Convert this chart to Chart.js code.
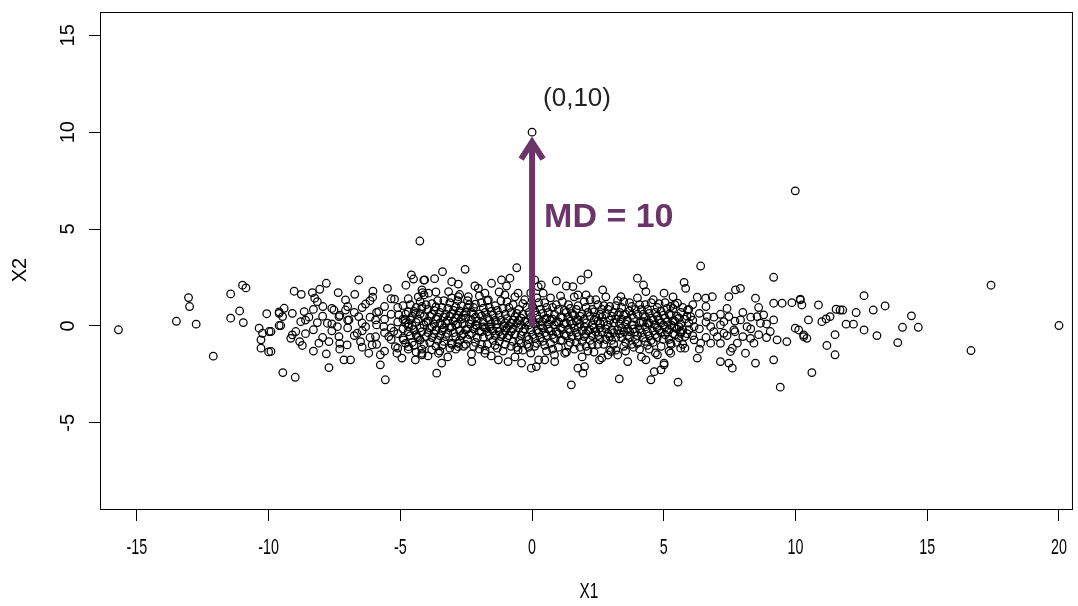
<!DOCTYPE html>
<html>
<head>
<meta charset="utf-8">
<script src="https://cdn.jsdelivr.net/npm/chart.js@4.4.1/dist/chart.umd.min.js"></script>
<style>
  html, body { margin: 0; padding: 0; background: #fff; }
  #wrap { width: 1078px; height: 606px; }
</style>
</head>
<body>
<div id="wrap"><canvas id="c" width="1078" height="606"></canvas></div>
<script>
// ticks
const xTicks = [-15, -10, -5, 0, 5, 10, 15, 20];
const yTicks = [-5, 0, 5, 10, 15];

// the marked point
const target = [[0, 10]];

// isolated points
const outliers = [
  [-15.7, -0.2], [-4.26, 4.38], [9.99, 6.97], [17.42, 2.1], [20.0, 0.02], [16.66, -1.27],
  [6.4, 3.09], [9.17, 2.51], [5.54, -2.9], [9.42, -3.16], [-0.58, 3.0], [1.49, -3.04],
  [3.31, -2.73], [-2.54, 2.92], [4.0, 2.46], [2.12, 2.68]
];

// left tail of the cloud
const leftTail = [
  [-13.5, 0.24], [-13.04, 1.46], [-13.0, 1.0], [-12.75, 0.09], [-12.1, -1.56], [-11.44, 1.65],
  [-11.44, 0.4], [-11.1, 0.77], [-10.99, 2.1], [-10.86, 1.96], [-10.96, 0.17], [-10.36, -0.12],
  [-10.23, -0.38], [-10.29, -0.72], [-10.29, -1.15], [-10.0, -1.34], [-9.98, -0.29], [-10.07, 0.63],
  [-9.6, 0.72], [-9.6, 0.02], [-9.03, 1.79], [-8.76, 1.63], [-8.34, 1.72], [-8.06, 1.89],
  [-7.81, 2.2], [-8.25, 1.43], [-8.15, 1.25], [-7.94, 1.0], [-7.36, 1.72], [-7.08, 1.34],
  [-6.73, 1.63], [-6.58, 2.37], [-6.32, 1.13], [-6.04, 1.79], [-6.05, 1.48], [-5.49, 1.94],
  [-5.22, 1.38], [-4.79, 2.1], [-4.58, 2.63], [-4.5, 2.42], [-4.11, 2.36], [-4.16, 1.72],
  [-9.41, 0.91], [-9.6, 0.65], [-9.47, 0.48], [-9.91, -0.29], [-9.91, -1.32], [-9.54, 0.02],
  [-9.1, 0.65], [-8.65, 0.74], [-8.78, 0.22], [-9.1, -0.46], [-8.97, -0.29], [-9.16, -0.64],
  [-8.82, -0.81], [-8.72, -1.01], [-9.46, -2.41], [-8.99, -2.65], [-8.47, 0.45], [-8.15, 0.17],
  [-7.77, 0.14], [-8.09, -0.89], [-7.71, -0.81], [-7.81, -1.44], [-7.71, -2.15], [-7.52, 0.82],
  [-7.33, 0.48], [-7.39, -0.04], [-7.33, -0.55], [-7.14, -1.75], [-6.89, -1.75], [-7.02, -0.98],
  [-6.95, 0.31], [-7.08, 0.82], [-6.58, 0.48], [-6.64, -0.38], [-6.51, -0.81], [-6.32, -0.04],
  [-6.2, -1.41], [-6.07, -0.98], [-5.94, -0.55], [-5.76, -1.49], [-5.76, -2.01], [-5.57, -2.78],
  [-5.94, 0.31], [-5.82, 0.74], [-5.63, -0.04], [-5.44, -0.55], [-5.25, -0.29], [-5.19, -1.07],
  [-5.13, -1.41], [-4.94, -1.66], [-4.88, -0.72], [-5.06, 0.57], [-4.81, 0.31], [-4.69, -1.07],
  [-4.69, -0.04], [-4.43, -1.75], [-4.37, -0.55], [-4.18, -1.41], [-4.43, 0.65], [-4.18, 1.0],
  [-8.6, 0.3], [-8.6, -0.4], [-8.3, -0.2], [-8.3, 0.85], [-8.3, -1.3], [-7.95, 0.5], [-7.95, -0.6],
  [-7.6, -0.25], [-7.6, 0.9], [-7.6, 0.1], [-7.3, 0.55], [-7.3, -0.9], [-7.3, -1.2], [-7.0, -0.1],
  [-7.0, 0.3], [-7.0, 1.0], [-6.75, 0.7], [-6.75, -0.5], [-6.45, 0.15], [-6.45, -0.25], [-6.45, 0.95],
  [-6.45, -1.1], [-6.15, -0.6], [-6.15, 0.45], [-6.15, 1.3], [-5.9, 0.05], [-5.9, -0.95], [-5.9, 0.7],
  [-5.6, 0.35], [-5.6, -0.35], [-5.6, 1.0], [-5.6, -1.3], [-5.35, -0.1], [-5.35, 0.6], [-5.35, -0.7],
  [-5.35, 1.4], [-5.1, 0.2], [-5.1, -0.4], [-5.1, 0.95], [-5.1, -1.15]
];

// upper and lower edges of the centre
const centreEdges = [
  [-4.08, 2.37], [-3.7, 2.44], [-3.4, 2.8], [-3.05, 2.28], [-2.8, 2.16], [-2.17, 2.06], [-2.04, 1.94],
  [-1.54, 2.2], [-1.16, 2.37], [-0.84, 2.46], [-0.97, 2.06], [0.1, 2.37], [0.23, 2.03], [-4.18, 1.86],
  [-3.93, 1.69], [-3.17, 1.77], [-2.8, 1.51], [-2.42, 1.51], [-1.79, 1.69], [-1.66, 1.34], [-1.03, 1.6],
  [-0.53, 1.69], [-3.62, -2.44], [-3.43, -1.92], [-3.81, -1.24], [-3.55, -1.41], [-4.18, -1.49],
  [-2.29, -1.84], [-1.79, -1.41], [-1.28, -1.75], [-0.91, -1.84], [-0.4, -1.92], [-0.03, -2.18],
  [0.16, -2.1], [-2.8, -1.07], [-3.05, -0.89], [-0.53, -1.24], [1.86, 2.37], [0.92, 2.32], [1.3, 2.06],
  [1.55, 2.03], [2.68, 1.86], [4.23, 2.11], [4.32, 1.77], [3.37, 1.51], [5.01, 1.69], [0.35, 2.11],
  [0.42, 1.69], [1.74, 1.6], [2.05, 1.6], [1.74, -2.18], [1.99, -2.1], [1.93, -2.44], [2.56, -1.75],
  [3.63, -1.84], [4.51, -2.78], [4.64, -2.36], [4.32, -1.75], [4.76, -1.49], [0.48, -1.75], [0.86, -1.84],
  [1.24, -1.41], [3.0, -1.32], [5.01, -2.01]
];

// dense middle of the cloud
const core = [
  [-4.9, 0.35], [-4.9, -0.62], [-4.9, 1.05], [-4.9, -0.15],
  [-4.7, -0.3], [-4.7, 0.72], [-4.7, -1.2], [-4.7, 0.1], [-4.7, 1.4],
  [-4.55, 0.5], [-4.55, -0.85], [-4.55, 0.02],
  [-4.4, -0.45], [-4.4, 0.95], [-4.4, 0.18], [-4.4, -1.35],
  [-4.25, 0.62], [-4.25, -0.1], [-4.25, -0.72], [-4.25, 1.25],
  [-4.1, 0.05], [-4.1, -0.95], [-4.1, 0.48], [-4.1, 1.6],
  [-3.95, -0.35], [-3.95, 0.85], [-3.95, -1.55], [-3.95, 0.25],
  [-3.8, 0.6], [-3.8, -0.6], [-3.8, 1.15], [-3.8, -0.05],
  [-3.65, -0.22], [-3.65, 0.35], [-3.65, -1.05], [-3.65, 0.98], [-3.65, 1.75],
  [-3.5, 0.15], [-3.5, -0.5], [-3.5, 0.7], [-3.5, -1.3],
  [-3.35, -0.8], [-3.35, 0.45], [-3.35, 1.3], [-3.35, -0.1],
  [-3.2, 0.28], [-3.2, -0.38], [-3.2, 0.9], [-3.2, -1.6],
  [-3.05, -0.05], [-3.05, 0.62], [-3.05, -0.95], [-3.05, 1.45],
  [-2.9, 0.4], [-2.9, -0.55], [-2.9, 1.0], [-2.9, -1.2], [-2.9, 0.05],
  [-2.75, -0.25], [-2.75, 0.78], [-2.75, -0.75], [-2.75, 1.62],
  [-2.6, 0.12], [-2.6, -1.05], [-2.6, 0.55], [-2.6, -0.4],
  [-2.45, 0.95], [-2.45, -0.15], [-2.45, -0.68], [-2.45, 1.3],
  [-2.3, -0.4], [-2.3, 0.3], [-2.3, -1.45], [-2.3, 0.7],
  [-2.15, 0.05], [-2.15, -0.85], [-2.15, 1.12], [-2.15, 0.45],
  [-2.0, -0.28], [-2.0, 0.62], [-2.0, -1.2], [-2.0, 1.55],
  [-1.85, 0.2], [-1.85, -0.58], [-1.85, 0.92], [-1.85, -0.05],
  [-1.7, -0.95], [-1.7, 0.42], [-1.7, -0.3], [-1.7, 1.3],
  [-1.55, 0.75], [-1.55, -0.15], [-1.55, -1.55], [-1.55, 0.1],
  [-1.4, -0.5], [-1.4, 0.28], [-1.4, 1.05], [-1.4, -1.0],
  [-1.25, 0.55], [-1.25, -0.3], [-1.25, -0.8], [-1.25, 1.75],
  [-1.1, 0.0], [-1.1, 0.9], [-1.1, -1.3], [-1.1, -0.45],
  [-0.95, 0.38], [-0.95, -0.62], [-0.95, 1.25], [-0.95, -0.1],
  [-0.8, -0.28], [-0.8, 0.68], [-0.8, -1.05], [-0.8, 0.15],
  [-0.65, 0.48], [-0.65, -0.45], [-0.65, 1.5], [-0.65, -1.6],
  [-0.5, -0.1], [-0.5, 0.85], [-0.5, -0.75], [-0.5, 0.3],
  [-0.35, 0.6], [-0.35, -0.3], [-0.35, -1.25], [-0.35, 1.15],
  [-0.2, -0.55], [-0.2, 0.2], [-0.2, 0.95], [-0.2, -0.95],
  [-0.05, 0.45], [-0.05, -0.2], [-0.05, 1.7], [-0.05, -1.4],
  [0.1, -0.65], [0.1, 0.1], [0.1, 0.78], [0.1, -1.05],
  [0.25, 0.35], [0.25, -0.35], [0.25, 1.2], [0.25, -1.75],
  [0.4, -0.1], [0.4, 0.65], [0.4, -0.8], [0.4, 0.2],
  [0.55, 0.95], [0.55, -0.5], [0.55, -1.3], [0.55, 0.4],
  [0.7, -0.25], [0.7, 0.3], [0.7, 1.45], [0.7, -0.9],
  [0.85, 0.6], [0.85, -0.65], [0.85, 0.05], [0.85, -1.5],
  [1.0, -0.4], [1.0, 0.85], [1.0, 0.2], [1.0, -1.1],
  [1.15, 0.42], [1.15, -0.18], [1.15, 1.25], [1.15, -0.75],
  [1.3, -0.5], [1.3, 0.15], [1.3, -1.35], [1.3, 0.7],
  [1.45, 0.9], [1.45, -0.3], [1.45, -0.85], [1.45, 0.25],
  [1.6, -0.1], [1.6, 0.55], [1.6, -1.2], [1.6, 1.5],
  [1.75, 0.32], [1.75, -0.55], [1.75, 1.05], [1.75, -0.05],
  [1.9, -0.8], [1.9, 0.62], [1.9, -0.25], [1.9, -1.6],
  [2.05, 0.15], [2.05, -0.4], [2.05, 0.95], [2.05, -1.05],
  [2.2, -0.2], [2.2, 0.5], [2.2, -0.75], [2.2, 1.35],
  [2.35, 0.72], [2.35, -0.1], [2.35, -1.35], [2.35, 0.3],
  [2.5, -0.5], [2.5, 0.25], [2.5, 1.1], [2.5, -0.95],
  [2.65, 0.45], [2.65, -0.3], [2.65, -1.65], [2.65, 0.85],
  [2.8, -0.15], [2.8, 0.6], [2.8, -0.7], [2.8, 1.5],
  [2.95, 0.3], [2.95, -0.55], [2.95, 1.0], [2.95, -1.25],
  [3.1, -0.35], [3.1, 0.15], [3.1, -0.95], [3.1, 0.7],
  [3.25, 0.55], [3.25, -0.2], [3.25, 1.3], [3.25, -1.5],
  [3.4, -0.6], [3.4, 0.35], [3.4, -0.1], [3.4, 0.95],
  [3.55, 0.1], [3.55, -0.85], [3.55, 0.6], [3.55, -1.3],
  [3.7, -0.3], [3.7, 0.78], [3.7, -0.6], [3.7, 1.2],
  [3.85, 0.4], [3.85, -0.15], [3.85, -1.1], [3.85, 0.05],
  [4.0, -0.5], [4.0, 0.6], [4.0, 1.45], [4.0, -0.9],
  [4.15, 0.2], [4.15, -0.35], [4.15, 0.85], [4.15, -1.6],
  [4.3, -0.05], [4.3, 0.45], [4.3, -0.8], [4.3, 1.1],
  [4.45, 0.65], [4.45, -0.5], [4.45, 0.15], [4.45, -1.2],
  [4.6, -0.25], [4.6, 0.3], [4.6, -0.85], [4.6, 1.35],
  [4.75, 0.5], [4.75, -0.6], [4.75, 0.95], [4.75, -0.1],
  [4.9, -0.35], [4.9, 0.15], [4.9, -1.05], [4.9, 0.75],
  [5.05, 0.4], [5.05, -0.45], [5.05, 1.2], [5.05, -0.05],
  [5.2, -0.7], [5.2, 0.6], [5.2, -0.2], [5.2, -1.3],
  [5.35, 0.25], [5.35, -0.4], [5.35, 0.9], [5.35, 1.5],
  [5.5, -0.15], [5.5, 0.5], [5.5, -0.85],
  [5.65, 0.7], [5.65, -0.3], [5.65, 0.1],
  [5.8, -0.55], [5.8, 0.35], [5.8, -1.15],
  [5.95, 0.15], [5.95, -0.2], [5.95, 0.85]
];

// more points filling the darkest part of the cloud
const coreFill = [
  [-4.8, 0.15], [-4.8, -0.9], [-4.8, 0.6], [-4.62, -0.5], [-4.62, 0.3], [-4.62, 1.1],
  [-4.48, 0.75], [-4.48, -0.2], [-4.48, -1.0], [-4.32, 0.35], [-4.32, -0.6], [-4.32, 1.5],
  [-4.18, -0.3], [-4.18, 0.9], [-4.18, -1.2], [-4.02, 0.2], [-4.02, -0.55], [-4.02, 1.1],
  [-3.88, -0.1], [-3.88, 0.5], [-3.88, -0.85], [-3.72, 0.8], [-3.72, -0.4], [-3.72, 0.1],
  [-3.58, -0.75], [-3.58, 0.45], [-3.58, 1.3], [-3.42, 0.05], [-3.42, -0.25], [-3.42, 0.95],
  [-3.42, -1.0], [-3.28, 0.6], [-3.28, -0.55], [-3.28, 0.15], [-3.12, -0.1], [-3.12, 0.5],
  [-3.12, -1.15], [-3.12, 1.2], [-2.98, 0.25], [-2.98, -0.35], [-2.98, 0.8], [-2.82, -0.9],
  [-2.82, 0.1], [-2.82, 0.55], [-2.82, 1.3], [-2.68, 0.35], [-2.68, -0.5], [-2.68, 1.05],
  [-2.52, -0.2], [-2.52, 0.4], [-2.52, -0.95], [-2.52, 0.7], [-2.38, 0.1], [-2.38, -0.45],
  [-2.38, 1.1], [-2.22, 0.6], [-2.22, -0.15], [-2.22, -1.05], [-2.22, 0.95], [-2.08, 0.25],
  [-2.08, -0.6], [-2.08, 0.0], [-1.92, -0.3], [-1.92, 0.5], [-1.92, 1.2], [-1.92, -0.95],
  [-1.78, 0.7], [-1.78, -0.1], [-1.78, -1.25], [-1.62, 0.3], [-1.62, -0.5], [-1.62, 0.95],
  [-1.62, -0.05], [-1.48, -0.25], [-1.48, 0.55], [-1.48, -0.75], [-1.32, 0.1], [-1.32, -1.15],
  [-1.32, 0.8], [-1.32, -0.1], [-1.18, -0.55], [-1.18, 0.3], [-1.18, 1.3], [-1.02, 0.6],
  [-1.02, -0.25], [-1.02, -0.95], [-1.02, 0.15], [-0.88, 0.0], [-0.88, 0.95], [-0.88, -0.5],
  [-0.72, -0.15], [-0.72, 0.3], [-0.72, -0.8], [-0.72, 1.1], [-0.58, 0.15], [-0.58, -1.1],
  [-0.58, 0.65], [-0.42, -0.5], [-0.42, 0.05], [-0.42, 0.4], [-0.42, -0.9], [-0.28, 0.25],
  [-0.28, -0.15], [-0.28, 1.35], [-0.12, -0.7], [-0.12, 0.7], [-0.12, 0.05], [-0.12, -1.1],
  [0.02, 0.25], [0.02, -0.45], [0.02, 1.0], [0.18, -0.2], [0.18, 0.55], [0.18, -0.9],
  [0.18, 1.45], [0.32, 0.05], [0.32, -0.6], [0.32, 0.85], [0.48, -0.35], [0.48, 0.35],
  [0.48, -1.0], [0.48, 1.2], [0.62, 0.1], [0.62, -0.15], [0.62, 0.7], [0.78, -0.45],
  [0.78, 0.95], [0.78, -1.2], [0.78, 0.35], [0.92, 0.2], [0.92, -0.3], [0.92, 1.1],
  [1.08, -0.75], [1.08, 0.45], [1.08, -0.1], [1.08, 1.55], [1.22, 0.1], [1.22, -0.45],
  [1.22, 0.8], [1.38, -0.15], [1.38, 0.45], [1.38, -1.0], [1.38, 1.1], [1.52, 0.1],
  [1.52, -0.55], [1.52, 0.65], [1.68, -0.35], [1.68, 0.25], [1.68, -0.85], [1.68, 0.85],
  [1.82, 0.1], [1.82, -1.1], [1.82, 0.5], [1.98, -0.55], [1.98, 0.35], [1.98, 1.25],
  [1.98, -0.05], [2.12, 0.7], [2.12, -0.25], [2.12, -1.3], [2.28, 0.05], [2.28, -0.5],
  [2.28, 0.85], [2.28, -0.95], [2.42, 0.45], [2.42, -0.3], [2.42, 1.35], [2.58, -0.1],
  [2.58, 0.6], [2.58, -0.7], [2.58, 0.15], [2.72, 0.2], [2.72, -0.95], [2.72, 1.05],
  [2.88, -0.4], [2.88, 0.05], [2.88, 0.85], [2.88, -1.5], [3.02, 0.5], [3.02, -0.2],
  [3.02, -0.75], [3.18, -0.6], [3.18, 0.35], [3.18, 1.05], [3.18, -1.25], [3.32, 0.1],
  [3.32, -0.4], [3.32, 0.7], [3.48, -0.3], [3.48, 0.55], [3.48, -1.05], [3.48, 1.25],
  [3.62, 0.3], [3.62, -0.15], [3.62, -0.5], [3.78, 0.05], [3.78, -0.95], [3.78, 0.55],
  [3.78, 1.0], [3.92, -0.3], [3.92, 0.85], [3.92, -0.7], [4.08, 0.15], [4.08, -0.15],
  [4.08, 1.1], [4.08, -1.2], [4.22, -0.6], [4.22, 0.6], [4.22, 0.2], [4.38, -0.3],
  [4.38, 0.15], [4.38, -1.0], [4.38, 0.85], [4.52, 0.4], [4.52, -0.75], [4.52, 1.2],
  [4.68, 0.05], [4.68, -0.45], [4.68, 0.7], [4.68, -1.4], [4.82, -0.2], [4.82, 0.3],
  [4.82, 1.15], [4.98, 0.55], [4.98, -0.7], [4.98, 0.05], [5.12, -0.3], [5.12, 0.2],
  [5.12, 0.9], [5.28, 0.55], [5.28, -0.95], [5.28, 0.05], [5.42, -0.45], [5.42, 0.25],
  [5.42, 1.1], [5.58, 0.4], [5.58, -0.6], [5.58, -0.05], [5.72, -0.2], [5.72, 0.95],
  [5.72, -0.95], [5.88, 0.5], [5.88, -0.4]
];

// right part of the cloud and its tail
const rightSide = [
  [7.15, -1.84], [7.47, -1.92], [7.6, -2.18], [8.48, -1.92], [9.17, -1.75], [6.27, -1.66], [8.1, -1.41],
  [5.77, 2.25], [5.83, 1.94], [6.27, 1.48], [6.59, 1.43], [6.84, 1.51], [7.47, 1.51], [7.72, 1.86],
  [7.91, 1.94], [8.48, 1.43], [9.17, 1.17], [9.49, 1.17], [9.86, 1.2], [10.18, 1.34], [9.17, 0.31],
  [9.99, -0.12], [10.31, -0.46], [9.3, -0.72], [9.67, -0.81], [8.54, 0.48], [8.79, 0.57], [7.91, 0.31],
  [8.16, -0.04], [7.28, 0.22], [7.47, 0.48], [7.66, -0.21], [7.79, -0.89], [8.29, -0.64], [8.42, -0.89],
  [7.6, -1.15], [7.53, -1.32], [6.78, -0.89], [6.4, -0.89], [6.15, -0.72], [6.65, 0.48], [6.78, -0.04],
  [7.03, -0.55], [7.28, -0.38], [8.67, 0.14], [9.04, -0.29], [5.9, 0.82], [6.02, 0.48], [6.15, -0.04],
  [5.52, 1.17], [5.26, 1.0], [5.39, -0.04], [5.64, -0.38], [5.26, -0.89], [5.64, -1.15], [5.26, -1.41],
  [5.01, -1.92], [4.89, -2.27],
  [6.1, 0.3], [6.1, -0.5], [6.1, 1.1], [6.35, -0.15], [6.35, 0.65], [6.35, -1.2], [6.6, 0.2],
  [6.6, -0.6], [6.6, 1.0], [6.9, -0.3], [6.9, 0.45], [7.15, 0.6], [7.15, -0.9], [7.15, 0.05],
  [7.4, -0.5], [7.4, 0.9], [7.7, 0.25], [7.7, -0.3], [8.0, -0.55], [8.0, 0.7], [8.3, 0.45],
  [8.3, -0.15], [8.6, -0.45], [8.6, 0.95], [8.9, 0.1], [8.9, -0.6],
  [12.6, 1.56], [13.4, 1.03], [12.95, 0.82], [12.3, 0.69], [14.4, 0.52], [14.06, -0.07], [14.66, -0.07],
  [13.88, -0.86], [13.09, -0.5], [12.6, -0.21], [12.2, 0.09], [11.92, 0.09], [11.5, -0.45], [11.19, -1.01],
  [11.5, -1.49], [10.62, -2.41], [11.54, 0.86], [11.69, 0.82], [11.79, 0.82], [11.31, 0.48], [11.16, 0.36],
  [11.0, 0.22], [10.87, 1.08], [10.49, 0.31], [10.18, 1.38], [10.24, 1.08], [10.12, -0.21], [10.31, -0.55],
  [10.43, -0.64]
];

const purple = '#6b3569';
const toPoints = arr => arr.map(p => ({ x: p[0], y: p[1] }));
const allPoints = toPoints([].concat(leftTail, centreEdges, core, coreFill, rightSide, outliers, target));

const frame = {
  id: 'frame',
  afterDraw(chart) {
    const ctx = chart.ctx, a = chart.chartArea;
    const xs = chart.scales.x, ys = chart.scales.y;
    ctx.save();
    ctx.strokeStyle = '#000';
    ctx.lineWidth = 1;
    ctx.strokeRect(a.left + 0.5, a.top + 0.5, a.right - a.left - 1, a.bottom - a.top - 1);

    // tick labels, narrow like the R output
    ctx.fillStyle = '#000';
    ctx.textAlign = 'center';
    ctx.textBaseline = 'middle';
    ctx.font = '22px "Liberation Sans", Arial, sans-serif';
    xs.ticks.forEach(t => {
      ctx.save();
      ctx.translate(xs.getPixelForValue(t.value), 548);
      ctx.scale(0.65, 1);
      ctx.fillText(String(t.value), 0, 0);
      ctx.restore();
    });
    ctx.font = '20px "Liberation Sans", Arial, sans-serif';
    ys.ticks.forEach(t => {
      ctx.save();
      ctx.translate(68, ys.getPixelForValue(t.value));
      ctx.rotate(-Math.PI / 2);
      ctx.fillText(String(t.value), 0, 0);
      ctx.restore();
    });
    // axis titles
    ctx.save();
    ctx.font = '22px "Liberation Sans", Arial, sans-serif';
    ctx.translate(589, 592);
    ctx.scale(0.7, 1);
    ctx.fillText('X1', 0, 0);
    ctx.restore();
    ctx.save();
    ctx.translate(20, 270);
    ctx.rotate(-Math.PI / 2);
    ctx.fillText('X2', 0, 0);
    ctx.restore();

    // arrow from origin to (0,10)
    const x0 = xs.getPixelForValue(0);
    const yBase = ys.getPixelForValue(0);
    const yTip = ys.getPixelForValue(10) + 6;
    ctx.strokeStyle = purple;
    ctx.lineWidth = 6;
    ctx.lineCap = 'butt';
    ctx.beginPath();
    ctx.moveTo(x0, yBase);
    ctx.lineTo(x0, yTip + 4);
    ctx.stroke();
    ctx.lineJoin = 'miter';
    ctx.beginPath();
    ctx.moveTo(x0 - 11, yTip + 21);
    ctx.lineTo(x0, yTip + 4);
    ctx.lineTo(x0 + 11, yTip + 21);
    ctx.stroke();

    // annotations
    ctx.textAlign = 'left';
    ctx.fillStyle = '#222';
    ctx.font = '26px "Liberation Sans", Arial, sans-serif';
    ctx.fillText('(0,10)', x0 + 11, ys.getPixelForValue(11.7));
    ctx.fillStyle = purple;
    ctx.font = 'bold 34px "Liberation Sans", Arial, sans-serif';
    ctx.fillText('MD = 10', x0 + 12, ys.getPixelForValue(5.6));
    ctx.restore();
  }
};

new Chart(document.getElementById('c'), {
  type: 'scatter',
  data: {
    datasets: [{
      data: allPoints,
      pointStyle: 'circle',
      pointRadius: 3.8,
      pointHoverRadius: 3.8,
      borderWidth: 1.25,
      borderColor: '#000',
      backgroundColor: 'rgba(0,0,0,0)'
    }]
  },
  options: {
    responsive: false,
    animation: false,
    events: [],
    layout: { padding: { top: 12, right: 1, left: 0, bottom: 0 } },
    plugins: { legend: { display: false }, tooltip: { enabled: false } },
    scales: {
      x: {
        type: 'linear',
        min: -16.4,
        max: 20.53,
        afterBuildTicks: s => { s.ticks = xTicks.map(v => ({ value: v })); },
        afterFit: s => { s.height = 96; },
        ticks: { display: false },
        border: { display: false },
        grid: { drawOnChartArea: false, drawTicks: true, tickLength: 11, color: '#000', lineWidth: 1 }
      },
      y: {
        type: 'linear',
        min: -9.5,
        max: 16.2,
        afterBuildTicks: s => { s.ticks = yTicks.map(v => ({ value: v })); },
        afterFit: s => { s.width = 100; },
        ticks: { display: false },
        border: { display: false },
        grid: { drawOnChartArea: false, drawTicks: true, tickLength: 11, color: '#000', lineWidth: 1 }
      }
    }
  },
  plugins: [frame]
});
</script>
</body>
</html>
